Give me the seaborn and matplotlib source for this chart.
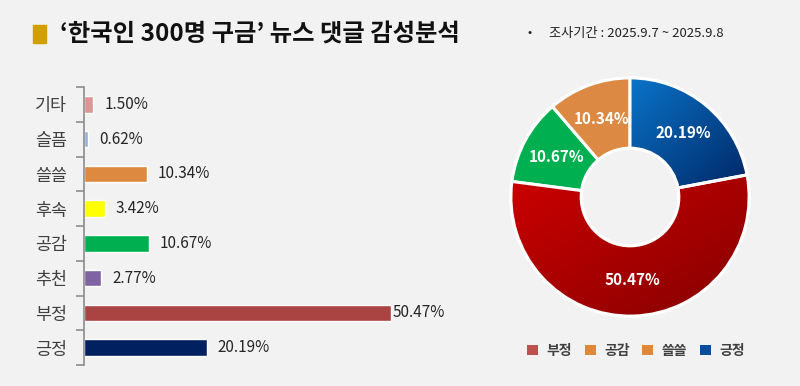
import numpy as np
import matplotlib
matplotlib.use('Agg')
import matplotlib.pyplot as plt
import seaborn as sns
from matplotlib.patches import Rectangle, Patch, PathPatch
from matplotlib.colors import LinearSegmentedColormap

# data
bar_cats = ['기타', '슬픔', '쓸쓸', '후속', '공감', '추천', '부정', '긍정']
bar_vals = [1.50, 0.62, 10.34, 3.42, 10.67, 2.77, 50.47, 20.19]
bar_colors = ['#d99694', '#95b3d7', '#dd8a40', '#ffff00', '#00b050', '#8064a2', '#a94442', '#002060']

pie_cats = ['긍정', '부정', '공감', '쓸쓸']
pie_vals = [20.19, 50.47, 10.67, 10.34]
pie_colors = ['#0b5cad', '#b00000', '#00b050', '#dc8a43']

legend_cats = ['부정', '공감', '쓸쓸', '긍정']
legend_colors = ['#c0504d', '#e0883a', '#e0883a', '#0a4d9c']

title = '‘한국인 300명 구금’ 뉴스 댓글 감성분석'
subtitle = '조사기간 : 2025.9.7 ~ 2025.9.8'

sns.set_theme(style='white')
plt.rcParams['font.family'] = ['Noto Sans CJK KR', 'DejaVu Sans']

bg = '#f2f2f2'
fig = plt.figure(figsize=(8, 3.86), dpi=100)
fig.patch.set_facecolor(bg)

# header
fig.patches.append(Rectangle((33 / 800, 1 - 43 / 386), 13 / 800, 18 / 386,
                             transform=fig.transFigure, color='#d19f00'))
fig.text(60 / 800, 1 - 34 / 386, title, fontsize=17.5, fontweight='bold',
         color='#111111', va='center', ha='left')
fig.text(528 / 800, 1 - 33 / 386, '•', fontsize=9, color='#222222', va='center')
fig.text(549 / 800, 1 - 33 / 386, subtitle, fontsize=9.5, color='#222222', va='center')

# bar chart
ax = fig.add_axes([84 / 800, 21 / 386, 365 / 800, 278 / 386])
ax.set_facecolor(bg)
sns.barplot(x=bar_vals, y=bar_cats, hue=bar_cats, palette=bar_colors,
            legend=False, width=0.48, orient='h', saturation=1, ax=ax)
ax.set_xlim(0, 60)
ax.set_ylim(len(bar_cats) - 0.5, -0.5)
for s in ['top', 'right', 'bottom']:
    ax.spines[s].set_visible(False)
ax.spines['left'].set_color('#8c8c8c')
ax.spines['left'].set_linewidth(1.2)
ax.set_xticks([])
ax.set_yticks(np.arange(len(bar_cats) + 1) - 0.5, minor=True)
ax.tick_params(axis='y', which='major', length=0, pad=12, labelsize=12.5, labelcolor='#404040')
ax.tick_params(axis='y', which='minor', length=6, width=1.2, color='#8c8c8c', left=True)
ax.set_xlabel('')
ax.set_ylabel('')
vmax = max(bar_vals)
for i, v in enumerate(bar_vals):
    pad = 1 if v == vmax else 8
    ax.annotate(f'{v:.2f}%', (v, i), xytext=(pad, 0), textcoords='offset points',
                ha='left', va='center', fontsize=11, color='#262626')

# donut chart
pax = fig.add_axes([(630 - 121.5) / 800, (386 - 197 - 121.5) / 386, 243 / 800, 243 / 386])
total = sum(pie_vals)
wedges, texts, autotexts = pax.pie(
    pie_vals, colors=pie_colors, startangle=90, counterclock=False,
    wedgeprops=dict(width=0.59, edgecolor='white', linewidth=2.2),
    autopct=lambda p: f'{p * total / 100:.2f}%', pctdistance=0.7,
    textprops=dict(color='white', fontsize=11, fontweight='bold'))

# gradient shading for blue and red slices
grads = {0: ('#0a74c8', '#002766'), 1: ('#cc0000', '#850000')}
for idx, (c1, c2) in grads.items():
    w = wedges[idx]
    cmap = LinearSegmentedColormap.from_list('g', [c1, c2])
    gx, gy = np.meshgrid(np.linspace(0, 1, 200), np.linspace(0, 1, 200))
    grad = (gx + gy) / 2
    bb = w.get_path().get_extents()
    im = pax.imshow(grad, cmap=cmap, extent=[bb.x0, bb.x1, bb.y0, bb.y1],
                    origin='upper', zorder=w.get_zorder() + 0.1, interpolation='bilinear')
    im.set_clip_path(w)
    outline = PathPatch(w.get_path(), fill=False, edgecolor='white',
                        linewidth=2.2, zorder=w.get_zorder() + 0.2)
    pax.add_patch(outline)
for t in autotexts:
    t.set_zorder(5)
pax.set_xlim(-1.02, 1.02)
pax.set_ylim(-1.02, 1.02)
pax.set_aspect('equal')
pax.axis('off')

handles = [Patch(facecolor=c, edgecolor='none', label=l) for l, c in zip(legend_cats, legend_colors)]
leg = fig.legend(handles=handles, loc='center', bbox_to_anchor=(636 / 800, 1 - 351 / 386),
                 ncol=4, frameon=False, handlelength=0.8, handleheight=0.8,
                 handletextpad=0.6, columnspacing=0.9, prop=dict(size=10, weight='bold'))
for t in leg.get_texts():
    t.set_color('#404040')

fig.savefig('out.png', dpi=100, facecolor=bg)
